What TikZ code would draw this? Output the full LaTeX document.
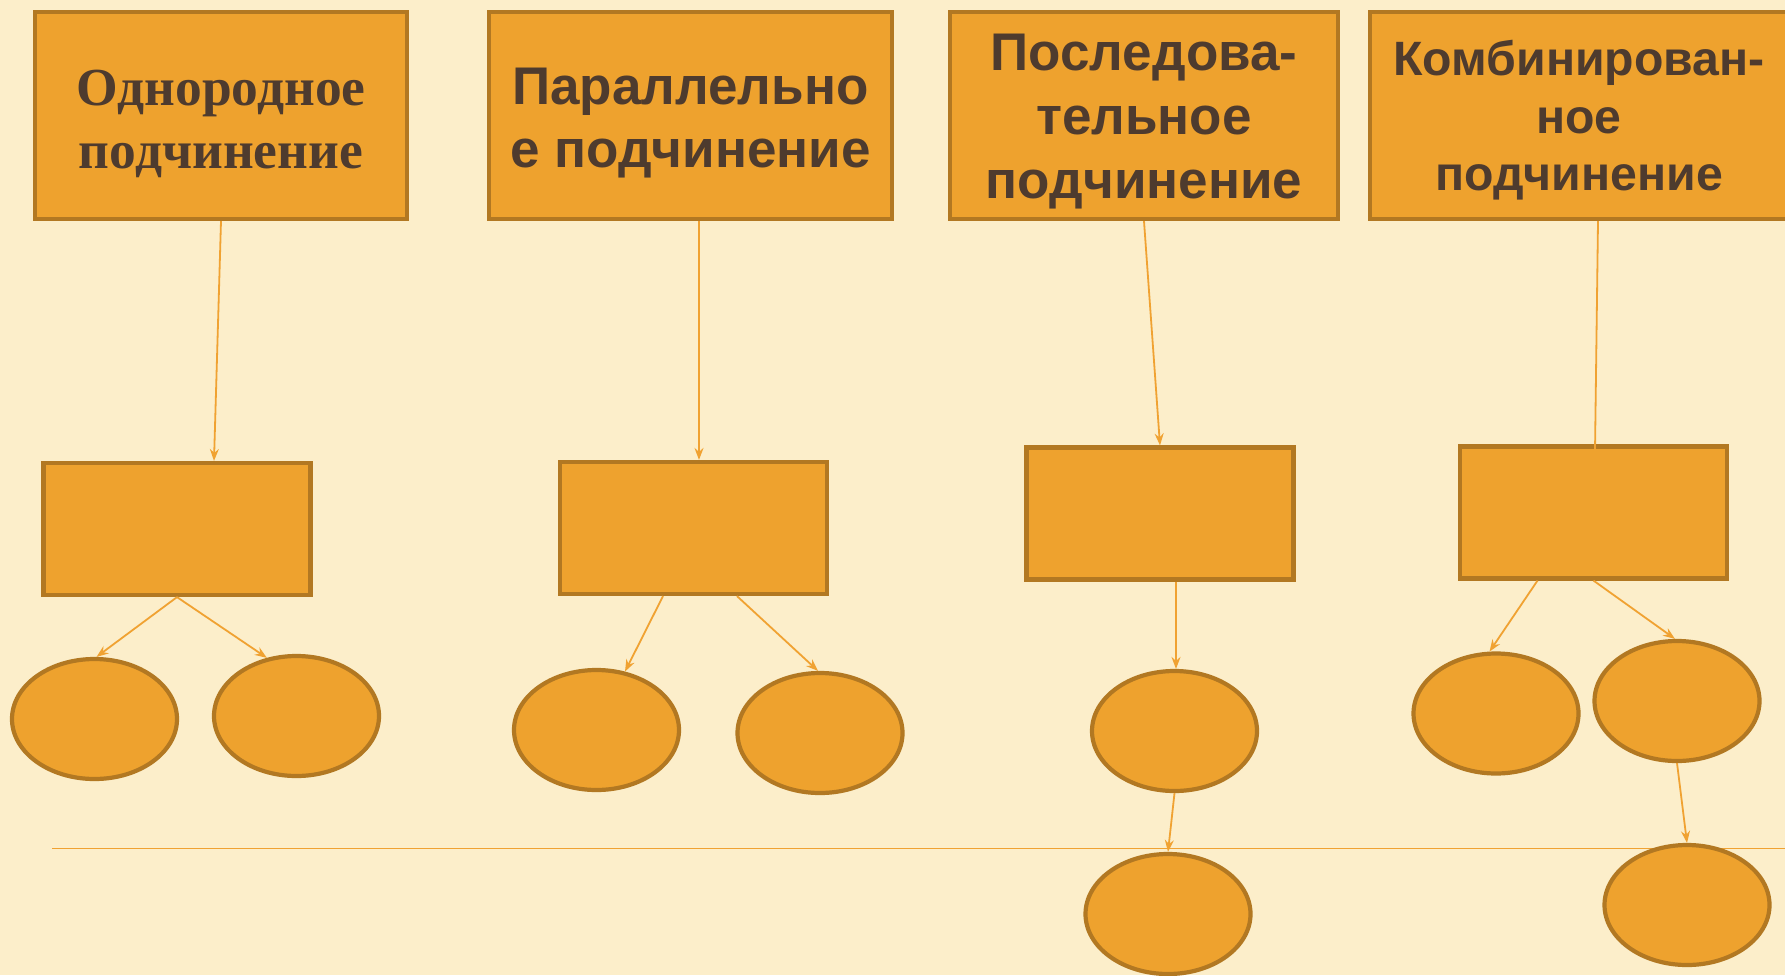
\documentclass[tikz,border=0pt]{standalone}
\usepackage{fontspec}
\setmainfont{Liberation Sans}
\newfontfamily\serifbold{Liberation Serif}
\usetikzlibrary{arrows.meta,shapes.geometric}
\definecolor{bg}{RGB}{252,238,202}
\definecolor{boxfill}{RGB}{238,162,46}
\definecolor{boxline}{RGB}{178,120,34}
\definecolor{arr}{RGB}{240,162,50}
\definecolor{txt}{RGB}{78,59,46}
\tikzset{
  topbox/.style={draw=boxline, fill=boxfill, line width=4.2pt, rectangle, minimum height=207pt},
  toptext/.style={text=txt, align=center, inner sep=0pt},
  midbox/.style={draw=boxline, fill=boxfill, line width=4.2pt, rectangle, minimum width=267pt, minimum height=132pt},
  oval/.style={draw=boxline, fill=boxfill, line width=4.2pt, ellipse, minimum width=165pt, minimum height=120pt, inner sep=0pt},
  conn/.style={draw=arr, line width=1.8pt, -{Stealth[length=12pt,width=9pt,inset=4pt]}},
  plain/.style={draw=arr, line width=1.8pt},
  sansbig/.style={font=\fontsize{53}{63}\selectfont\bfseries},
  sansbigb/.style={font=\fontsize{53}{64}\selectfont\bfseries},
  sanssmall/.style={font=\fontsize{48.2}{57.5}\selectfont\bfseries},
  serifbig/.style={font=\serifbold\fontsize{53.5}{63}\selectfont\bfseries}
}
\begin{document}
\begin{tikzpicture}[x=1pt,y=-1pt]
\useasboundingbox (0,0) rectangle (1785,975);
\fill[bg] (0,0) rectangle (1785,975);
% separator line
\coordinate (hl) at (52,848.5);
\coordinate (hr) at (1785,848.5);
\draw[plain] (hl) -- (hr);
% top boxes
\node[topbox, minimum width=372pt] (t1) at (221,115.5) {};
\node[topbox, minimum width=403pt] (t2) at (690.5,115.5) {};
\node[topbox, minimum width=388pt] (t3) at (1144,115.5) {};
\node[topbox, minimum width=418pt] (t4) at (1579,115.5) {};
\node[toptext, serifbig] (t1l) at ([yshift=-8pt]t1.center) {Однородное\\подчинение};
\node[toptext, sansbig] (t2l) at ([yshift=-8pt]t2.center) {Параллельно\\е подчинение};
\node[toptext, sansbigb] (t3l) at ([yshift=-6pt]t3.center) {Последова-\\тельное\\подчинение};
\node[toptext, sanssmall] (t4l) at ([yshift=-5pt]t4.center) {Комбинирован-\\ное\\подчинение};
% middle boxes
\node[midbox] (r1) at (177,529) {};
\node[midbox] (r2) at (693.5,528) {};
\node[midbox] (r3) at (1160,513.5) {};
\node[midbox] (r4) at (1593.5,512.5) {};
% ovals
\node[oval] (e1a) at (94.5,719) {};
\node[oval] (e1b) at (296.5,716) {};
\node[oval] (e2a) at (596.5,730) {};
\node[oval] (e2b) at (820,733) {};
\node[oval] (e3a) at (1174.5,731) {};
\node[oval] (e3b) at (1168,914) {};
\node[oval] (e4a) at (1496,713.5) {};
\node[oval] (e4b) at (1677,701) {};
\node[oval] (e4c) at (1687,905) {};
% connectors
\draw[conn] (t1.south) -- ([xshift=37pt]r1.north);
\draw[conn] ([xshift=8.5pt]t2.south) -- ([xshift=5.5pt]r2.north);
\draw[conn] (t3.south) -- (r3.north);
\draw[plain] ([xshift=19pt]t4.south) -- ([xshift=1.5pt,yshift=-6pt]r4.north);
\draw[conn] (r1.south) -- ([xshift=2pt]e1a.north);
\draw[conn] (r1.south) -- (e1b.117);
\draw[conn] ([xshift=-30.5pt]r2.south) -- (e2a.64);
\draw[conn] ([xshift=43.5pt]r2.south) -- ([xshift=-2pt]e2b.north);
\draw[conn] ([xshift=16pt]r3.south) -- ([xshift=1.5pt]e3a.north);
\draw[conn] (e3a.south) -- (e3b.north);
\draw[conn] ([xshift=-56pt]r4.south) -- (e4a.96);
\draw[conn] (r4.south) -- ([xshift=-2pt]e4b.north);
\draw[conn] (e4b.south) -- (e4c.north);
\end{tikzpicture}
\end{document}
